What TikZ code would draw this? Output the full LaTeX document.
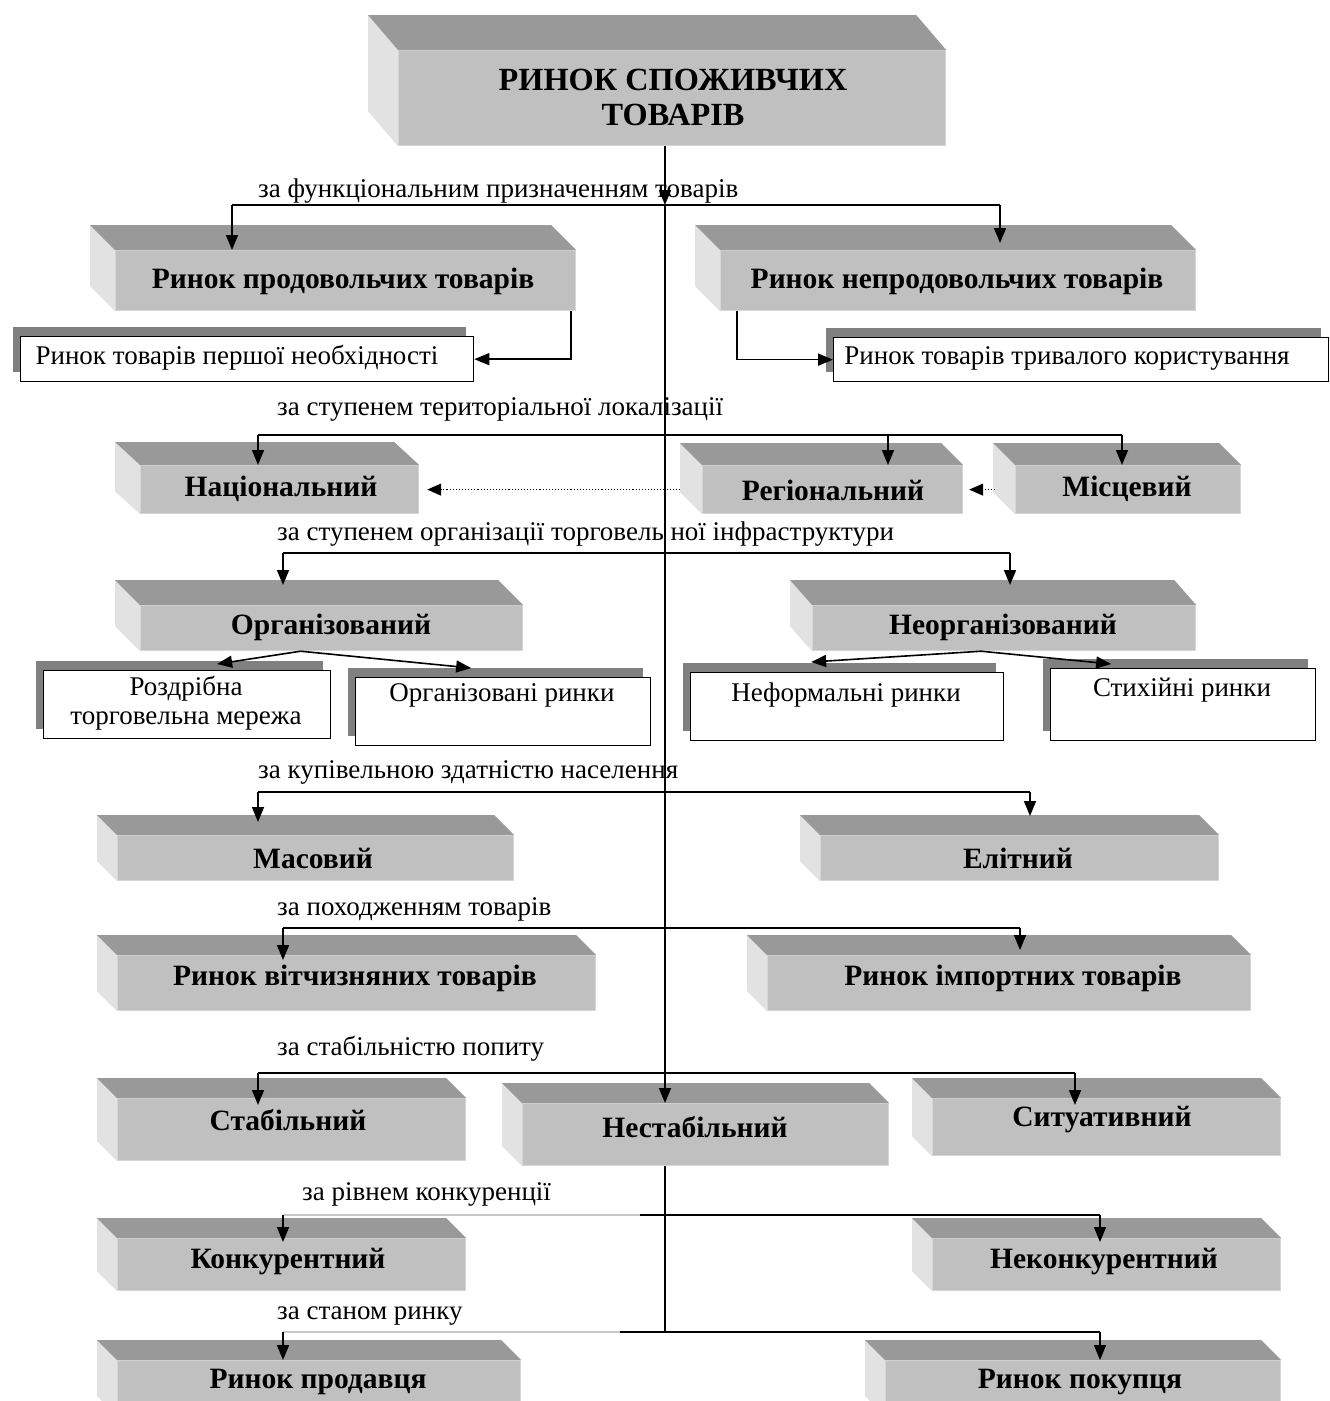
\documentclass[tikz,border=0pt]{standalone}
\usepackage{fontspec}
\setmainfont{Liberation Serif}
\usetikzlibrary{arrows.meta,calc,shadows}
\definecolor{topgray}{HTML}{999999}
\definecolor{frontgray}{HTML}{C0C0C0}
\definecolor{sidegray}{HTML}{E2E2E2}
\definecolor{edgegray}{HTML}{D6D6D6}
\definecolor{shadowgray}{HTML}{808080}
\definecolor{faintline}{HTML}{C8C8C8}

% a raised slab: front face node plus its top and left faces
\newcommand{\slab}[7]{%
  \node[frontface, anchor=north west, minimum width={#4-#2}, minimum height={#5-#3}] (#1) at (#2,#3) {};
  \fill[sidegray] (#1.north west) -- ++(-#6,-#7) -- ($(#1.south west)+(-#6,-#7)$) -- (#1.south west) -- cycle;
  \fill[topgray] (#1.north west) -- ++(-#6,-#7) -- ($(#1.north east)+(-#6,-#7)$) -- (#1.north east) -- cycle;
}

\begin{document}
\begin{tikzpicture}[x=1pt,y=-1pt,
  frontface/.style={fill=frontgray, draw=edgegray, line width=1.2pt, inner sep=0pt},
  slabtext/.style={font=\fontsize{29.5}{33}\selectfont\bfseries, inner sep=0pt},
  titletext/.style={font=\fontsize{32.3}{35}\selectfont\bfseries, inner sep=0pt, align=center},
  wbox/.style={draw=black, line width=1.3pt, fill=white, inner sep=0pt, anchor=north west,
    drop shadow={shadow xshift=-8pt, shadow yshift=10pt, fill=shadowgray, opacity=1}},
  wtext/.style={font=\fontsize{27}{29}\selectfont, inner sep=0pt, align=center},
  crit/.style={font=\fontsize{27}{30}\selectfont, inner sep=0pt, anchor=base west},
  conn/.style={draw=black, line width=1.6pt},
  thick conn/.style={draw=black, line width=2.6pt},
  arr/.style={conn, -{Triangle[length=15pt,width=12pt]}},
  dotarr/.style={draw=black, line width=1.1pt, dotted, -{Triangle[length=14pt,width=12pt]}},
]
\useasboundingbox (0,0) rectangle (1330,1401);
\clip (0,0) rectangle (1330,1401);
\fill[white] (0,0) rectangle (1330,1401);

% ---------- slabs ----------
\slab{title}{398}{50}{945}{145}{30}{35}
\slab{prod}{115}{250}{575}{310}{25}{25}
\slab{nonprod}{720}{250}{1195}{310}{25}{25}
\slab{nat}{140}{465}{418}{513}{25}{23}
\slab{reg}{702}{465}{962}{513}{22}{22}
\slab{loc}{1015}{465}{1240}{513}{22}{22}
\slab{org}{140}{605}{522}{650}{25}{25}
\slab{unorg}{812}{605}{1195}{650}{22}{25}
\slab{mass}{117}{835}{513}{880}{20}{20}
\slab{elite}{820}{835}{1218}{880}{20}{20}
\slab{dom}{117}{955}{595}{1010}{20}{20}
\slab{imp}{767}{955}{1250}{1010}{20}{20}
\slab{stab}{117}{1098}{465}{1160}{20}{20}
\slab{unstab}{522}{1103}{888}{1165}{20}{20}
\slab{sit}{932}{1098}{1280}{1155}{20}{20}
\slab{comp}{117}{1238}{465}{1290}{20}{20}
\slab{noncomp}{932}{1238}{1280}{1290}{20}{20}
\slab{seller}{117}{1360}{520}{1415}{20}{20}
\slab{buyer}{885}{1360}{1280}{1415}{20}{20}

\node[titletext] (title-t) at (673,97) {РИНОК СПОЖИВЧИХ\\ТОВАРІВ};
\node[slabtext] (prod-t) at (343,281) {Ринок продовольчих товарів};
\node[slabtext] (nonprod-t) at (957,281) {Ринок непродовольчих товарів};
\node[slabtext] (nat-t) at (281,489) {Національний};
\node[slabtext] (reg-t) at (833,490) {Регіональний};
\node[slabtext] (loc-t) at (1127,489) {Місцевий};
\node[slabtext] (org-t) at (331,627) {Організований};
\node[slabtext] (unorg-t) at (1003,627) {Неорганізований};
\node[slabtext] (mass-t) at (313,858) {Масовий};
\node[slabtext] (elite-t) at (1018,858) {Елітний};
\node[slabtext] (dom-t) at (355,978) {Ринок вітчизняних товарів};
\node[slabtext] (imp-t) at (1013,978) {Ринок імпортних товарів};
\node[slabtext] (stab-t) at (288,1120) {Стабільний};
\node[slabtext] (unstab-t) at (695,1127) {Нестабільний};
\node[slabtext] (sit-t) at (1102,1120) {Ситуативний};
\node[slabtext] (comp-t) at (288,1262) {Конкурентний};
\node[slabtext] (noncomp-t) at (1104,1262) {Неконкурентний};
\node[slabtext] (seller-t) at (318,1382) {Ринок продавця};
\node[slabtext] (buyer-t) at (1080,1382) {Ринок покупця};

% ---------- white boxes with shadows ----------
\node[wbox, minimum width=453, minimum height=45] (first) at (20,336) {};
\node[wbox, minimum width=495, minimum height=44] (durable) at (833,337) {};
\node[wbox, minimum width=287, minimum height=68] (retail) at (43,670) {};
\node[wbox, minimum width=295, minimum height=68] (orgm) at (355,677) {};
\node[wbox, minimum width=313, minimum height=68] (informal) at (690,672) {};
\node[wbox, minimum width=265, minimum height=72] (spont) at (1050,668) {};

\node[wtext] (first-t) at (237,358) {Ринок товарів першої необхідності};
\node[wtext] (durable-t) at (1067,358) {Ринок товарів тривалого користування};
\node[wtext] (retail-t) at (186,703) {Роздрібна\\торговельна мережа};
\node[wtext] (orgm-t) at (502,695) {Організовані ринки};
\node[wtext] (informal-t) at (846,695) {Неформальні ринки};
\node[wtext] (spont-t) at (1182,690) {Стихійні ринки};

% ---------- classification criteria ----------
\node[crit] (c1) at (258,197) {за функціональним призначенням товарів};
\node[crit] (c2) at (277,415) {за ступенем територіальної локалізації};
\node[crit] (c3) at (277,540) {за ступенем організації торговель ної інфраструктури};
\node[crit] (c4) at (258,778) {за купівельною здатністю населення};
\node[crit] (c5) at (277,915) {за походженням товарів};
\node[crit] (c6) at (277,1055) {за стабільністю попиту};
\node[crit] (c7) at (302,1200) {за рівнем конкуренції};
\node[crit] (c8) at (277,1319) {за станом ринку};

% ---------- trunk ----------
\coordinate (j1) at (665,205);
\coordinate (j2) at (665,435);
\coordinate (j3) at (665,553);
\coordinate (j4) at (665,792);
\coordinate (j5) at (665,928);
\coordinate (j6) at (665,1073);
\coordinate (j7) at (665,1215);
\coordinate (j8) at (665,1332);
\draw[arr] (title.south -| j1) -- (j1);
\draw[conn] (j1) -- (j2) -- (j3) -- (j4) -- (j5) -- (j6);
\draw[arr] (j6) -- (j6 |- unstab.north);
\draw[conn] (unstab.south -| j7) -- (j7) -- (j8);

% ---------- branches ----------
\coordinate (a1) at (232,205); \coordinate (b1) at (1000,205);
\draw[conn] (a1) -- (b1);
\draw[arr] (a1) -- (a1 |- prod.north);
\draw[arr] (b1) -- ++(0,38);
\draw[arr] ([xshift=-5pt]prod.south east) |- (first.east);
\draw[arr] ([xshift=17pt]nonprod.south west) |- (durable.west);

\coordinate (a2) at (258,435); \coordinate (m2) at (888,435); \coordinate (b2) at (1122,435);
\draw[conn] (a2) -- (b2);
\draw[arr] (a2) -- (a2 |- nat.north);
\draw[arr] (m2) -- (m2 |- reg.north);
\draw[arr] (b2) -- (b2 |- loc.north);
\draw[dotarr] ([xshift=-22pt]reg.west) -- ([xshift=8pt]nat.east);
\draw[dotarr] ([xshift=-20pt]loc.west) -- ([xshift=6pt]reg.east);

\coordinate (a3) at (283,553); \coordinate (b3) at (1010,553);
\draw[conn] (a3) -- (b3);
\draw[arr] (a3) -- ++(0,32);
\draw[arr] (b3) -- ++(0,32);
\coordinate (oapex) at ([xshift=-31pt]org.south);
\draw[arr] (oapex) -- ([xshift=30pt,yshift=6pt]retail.north);
\draw[arr] (oapex) -- ([xshift=-32pt,yshift=9pt]orgm.north);
\coordinate (uapex) at ([xshift=-23pt]unorg.south);
\draw[arr] (uapex) -- ([xshift=-36pt,yshift=10pt]informal.north);
\draw[arr] (uapex) -- ([xshift=-72pt,yshift=4pt]spont.north);

\coordinate (a4) at (258,792); \coordinate (b4) at (1030,792);
\draw[thick conn] (a4) -- (b4);
\draw[arr] (a4) -- ++(0,30);
\draw[arr] (b4) -- ++(0,24);

\coordinate (a5) at (283,928); \coordinate (b5) at (1020,928);
\draw[conn] (a5) -- (b5);
\draw[arr] (a5) -- ++(0,32);
\draw[arr] (b5) -- ++(0,22);

\coordinate (a6) at (258,1073); \coordinate (b6) at (1075,1073);
\draw[thick conn] (a6) -- (b6);
\draw[arr] (a6) -- ++(0,32);
\draw[arr] (b6) -- ++(0,32);

\coordinate (a7) at (283,1215); \coordinate (g7) at (640,1215); \coordinate (b7) at (1100,1215);
\draw[faintline, line width=1.4pt] (a7) -- (g7);
\draw[conn] (g7) -- (b7);
\draw[arr] (a7) -- ++(0,27);
\draw[arr] (b7) -- ++(0,27);

\coordinate (a8) at (283,1332); \coordinate (g8) at (620,1332); \coordinate (b8) at (1100,1332);
\draw[faintline, line width=1.4pt] (a8) -- (g8);
\draw[conn] (g8) -- (b8);
\draw[arr] (a8) -- ++(0,28);
\draw[arr] (b8) -- ++(0,28);
\end{tikzpicture}
\end{document}
